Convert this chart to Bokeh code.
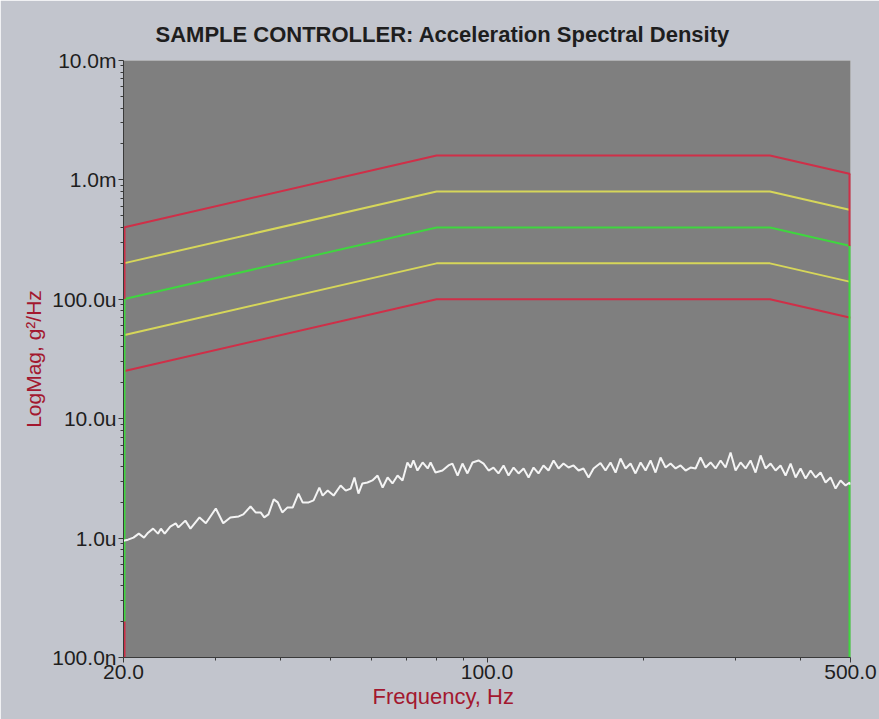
from bokeh.plotting import figure
from bokeh.models import FixedTicker, Title, CustomJSTickFormatter
from bokeh.embed import file_html
from bokeh.resources import INLINE

# ---------------- data ----------------
title_text = "SAMPLE CONTROLLER:  Acceleration Spectral Density"
x_label = "Frequency, Hz"
y_label = "LogMag, g\u00b2/Hz"

x_ticks = [20.0, 100.0, 500.0]
x_tick_labels = ["20.0", "100.0", "500.0"]
x_minor = [30, 40, 50, 60, 70, 80, 90, 200, 300, 400]
y_ticks = [1e-7, 1e-6, 1e-5, 1e-4, 1e-3, 1e-2]
y_tick_labels = ["100.0n", "1.0u", "10.0u", "100.0u", "1.0m", "10.0m"]

# reference profile with tolerance (alarm / abort) lines, g^2/Hz
prof_freq = [20.0, 80.0, 350.0, 500.0]
abort_hi = [4.0e-4, 1.6e-3, 1.6e-3, 1.12e-3]
alarm_hi = [2.0e-4, 8.0e-4, 8.0e-4, 5.6e-4]
reference = [1.0e-4, 4.0e-4, 4.0e-4, 2.8e-4]
alarm_lo = [5.0e-5, 2.0e-4, 2.0e-4, 1.4e-4]
abort_lo = [2.5e-5, 1.0e-4, 1.0e-4, 7.0e-5]

# vertical edge segments at the band limits
edge_freq = [20.0, 20.0, 20.0, 500.0, 500.0]
edge_top = [4.0e-4, 1.0e-4, 2.0e-7, 1.12e-3, 2.8e-4]
edge_bottom = [1.0e-4, 2.0e-7, 1.0e-7, 2.8e-4, 1.0e-7]
edge_kind = ["abort", "ref", "abort", "abort", "ref"]

ctrl_freq = [
    20.0, 20.4, 20.9, 21.4, 21.9, 22.3, 22.8, 23.3, 23.6, 24.0, 24.6, 25.2, 25.5, 26.3,
    26.9, 28.0, 28.8, 30.1, 31.1, 32.1, 33.3, 34.0, 35.1, 35.9, 36.7, 37.3, 38.0, 38.9,
    39.6, 40.4, 41.3, 42.3, 43.4, 44.2, 45.4, 46.4, 47.6, 48.3, 49.4, 50.7, 52.3, 53.5,
    54.7, 55.6, 56.6, 57.6, 58.9, 60.2, 61.6, 63.0, 64.4, 65.8, 67.3, 68.8, 70.3, 71.3,
    72.2, 73.5, 75.2, 76.9, 77.9, 79.6, 82.1, 84.3, 85.8, 87.8, 89.7, 91.7, 93.8, 96.3,
    98.5, 100.7, 102.9, 105.2, 107.6, 110.0, 112.5, 115.0, 117.6, 120.2, 122.9, 125.6,
    128.4, 131.3, 134.3, 137.3, 140.3, 143.5, 146.7, 150.0, 153.3, 156.8, 160.3, 165.3,
    169.0, 172.8, 176.7, 180.6, 184.7, 188.8, 193.0, 197.4, 201.8, 206.3, 210.9, 215.6,
    220.5, 225.4, 230.5, 235.6, 240.9, 246.3, 251.8, 257.4, 263.2, 269.1, 275.1, 281.3,
    287.6, 294.0, 300.6, 307.3, 314.2, 321.2, 328.4, 335.8, 343.3, 351.0, 358.8, 366.8,
    375.1, 383.5, 392.1, 400.8, 409.8, 419.0, 428.4, 438.0, 447.7, 457.8, 468.0, 478.5,
    489.2, 498.0, 500.0,
]
ctrl_micro = [
    0.95, 0.97, 1.01, 1.09, 1.01, 1.11, 1.20, 1.09, 1.20, 1.09, 1.25, 1.33, 1.23, 1.40,
    1.20, 1.49, 1.33, 1.77, 1.33, 1.49, 1.52, 1.58, 1.84, 1.64, 1.64, 1.49, 1.58, 2.11,
    1.99, 1.64, 1.80, 1.80, 2.36, 1.99, 1.99, 2.07, 2.65, 2.27, 2.50, 2.27, 2.76, 2.50,
    2.60, 3.22, 2.36, 2.87, 2.92, 3.04, 3.34, 2.65, 3.22, 2.87, 3.34, 3.04, 4.30, 3.90,
    4.47, 3.68, 4.30, 3.83, 4.30, 3.54, 3.68, 4.06, 4.21, 3.34, 4.21, 3.48, 4.30, 4.47,
    4.21, 3.68, 3.90, 3.48, 4.06, 3.34, 3.90, 3.48, 3.83, 3.22, 3.90, 3.48,
    4.06, 3.68, 4.47, 3.83, 4.21, 3.90, 4.06, 3.68, 3.83, 3.22, 3.83, 4.25,
    3.68, 4.30, 3.54, 4.64, 3.83, 4.21, 3.48, 4.30, 3.68, 4.47, 3.54, 4.73,
    3.90, 4.21, 3.83, 4.06, 3.68, 3.90, 3.83, 4.73, 3.90, 4.30, 3.83, 4.47,
    3.90, 5.21, 3.68, 4.30, 3.83, 4.47, 3.54, 4.92, 3.83, 4.21, 3.68, 4.06,
    3.34, 4.21, 3.22, 3.83, 3.16, 3.68, 3.22, 3.54, 2.92, 3.22, 2.60, 3.04,
    2.76, 2.92, 2.80,
]

# ---------------- style ----------------
BG = "#c2c5cd"
PLOT_BG = "#7f7f7f"
RED = "#cf2f48"
YELLOW = "#d6d65a"
GREEN = "#3fd63f"
LABEL_RED = "#a3182f"
TEXT = "#1e1e1e"
FONT = "Liberation Sans"

ctrl_vals = [v * 1e-6 for v in ctrl_micro]
edge_colors = [RED if k == "abort" else GREEN for k in edge_kind]

p = figure(
    width=879, height=719,
    x_axis_type="log", y_axis_type="log",
    x_range=(20, 500), y_range=(1e-7, 1e-2),
    output_backend="svg", toolbar_location=None,
    min_border_left=123, min_border_right=29,
    min_border_top=60, min_border_bottom=62,
    background_fill_color=PLOT_BG, border_fill_color=BG,
)
p.outline_line_color = None
p.grid.visible = False

# title (centred on the canvas rather than on the frame)
p.title = Title(text=title_text, align="left", offset=32,
                text_font=FONT, text_font_size="22px", text_font_style="bold",
                text_color=TEXT, standoff=27)

# axes
p.xaxis.ticker = FixedTicker(ticks=x_ticks, minor_ticks=x_minor)
p.xaxis.formatter = CustomJSTickFormatter(
    args=dict(vals=x_ticks, labs=x_tick_labels),
    code="""
    for (let i = 0; i < vals.length; i++) {
        if (Math.abs(Math.log10(tick) - Math.log10(vals[i])) < 1e-6) return labs[i];
    }
    return '';
    """)
y_minor = [k * t for t in y_ticks[:-1] for k in range(2, 10)]
p.yaxis.ticker = FixedTicker(ticks=y_ticks, minor_ticks=y_minor)
p.yaxis.formatter = CustomJSTickFormatter(
    args=dict(vals=y_ticks, labs=y_tick_labels),
    code="""
    for (let i = 0; i < vals.length; i++) {
        if (Math.abs(Math.log10(tick) - Math.log10(vals[i])) < 1e-6) return labs[i];
    }
    return '';
    """)

for ax in (p.xaxis[0], p.yaxis[0]):
    ax.axis_line_color = "#3a3a3a"
    ax.axis_line_width = 1
    ax.major_tick_line_color = "#3a3a3a"
    ax.minor_tick_line_color = "#3a3a3a"
    ax.major_tick_in = 0
    ax.major_tick_out = 5
    ax.minor_tick_in = 0
    ax.minor_tick_out = 3
    ax.major_label_text_font = FONT
    ax.major_label_text_font_size = "21px"
    ax.major_label_text_color = TEXT

p.xaxis.major_label_standoff = 2
p.yaxis.major_label_standoff = 2
p.yaxis.axis_label = y_label
p.yaxis.axis_label_text_font = FONT
p.yaxis.axis_label_text_font_size = "21px"
p.yaxis.axis_label_text_font_style = "normal"
p.yaxis.axis_label_text_color = LABEL_RED
p.yaxis.axis_label_standoff = 4

p.add_layout(Title(text=x_label, align="left", offset=249,
                   text_font=FONT, text_font_size="22px", text_font_style="normal",
                   text_color=LABEL_RED, standoff=0), "below")

# tolerance lines
p.line(prof_freq, abort_hi, line_color=RED, line_width=2)
p.line(prof_freq, abort_lo, line_color=RED, line_width=2)
p.line(prof_freq, alarm_hi, line_color=YELLOW, line_width=2)
p.line(prof_freq, alarm_lo, line_color=YELLOW, line_width=2)
p.line(prof_freq, reference, line_color=GREEN, line_width=2)
p.segment(x0=edge_freq, y0=edge_bottom, x1=edge_freq, y1=edge_top,
          line_color=edge_colors, line_width=4)

# control spectrum
p.line(ctrl_freq, ctrl_vals, line_color="#f4f4f4", line_width=2)

open("out.html", "w").write(file_html(p, INLINE))
